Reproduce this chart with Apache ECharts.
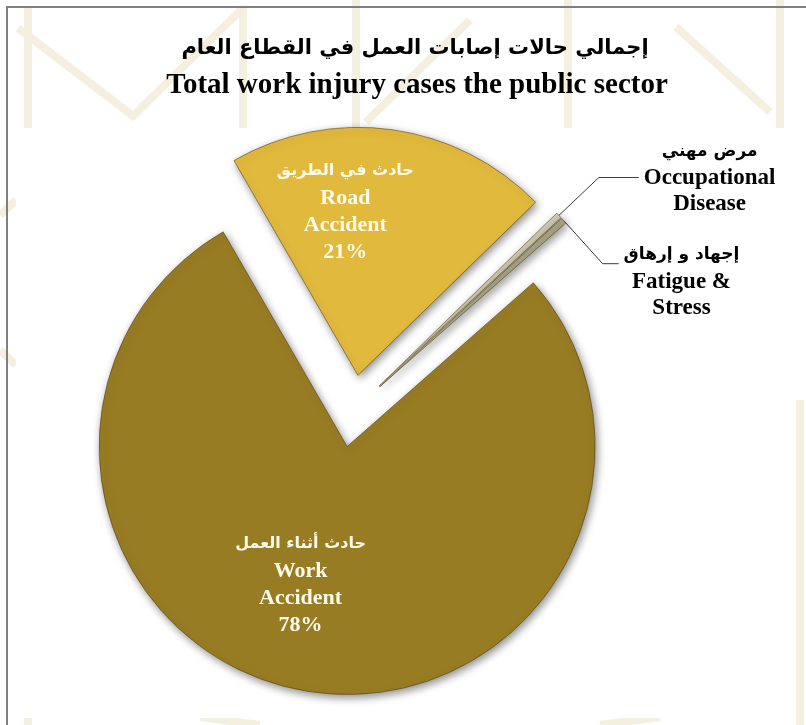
<!DOCTYPE html>
<html>
<head>
<meta charset="utf-8">
<script src="https://cdn.jsdelivr.net/npm/echarts@6/dist/echarts.min.js"></script>
<style>
html,body{margin:0;padding:0;background:#fff;}
#chart{width:806px;height:725px;}
</style>
</head>
<body>
<div id="chart"></div>
<script>
// ---- data ----
const titleAr = 'إجمالي حالات إصابات العمل في القطاع العام';
const titleEn = 'Total work injury cases the public sector';
const categoriesAr = ['حادث في الطريق', 'مرض مهني', 'إجهاد و إرهاق', 'حادث أثناء العمل'];
const categoriesEn = ['Road\nAccident', 'Occupational\nDisease', 'Fatigue &\nStress', 'Work\nAccident'];
const values = [21, 0.4, 0.4, 78];
const showPercent = [true, false, false, true];

// ---- styles ----
const sliceColors = ['#E1B93C', '#CFCAB2', '#A6A184', '#987C24'];
const insideNudge = [{dx: -30, dy: -38}, null, null, {dx: -26, dy: 12}];
const leaderLength = [null, 55, 20, null];
const leadingSpace = [false, false, true, false];

const chart = echarts.init(document.getElementById('chart'), null, {renderer: 'canvas'});

function enLines(s, tag) {
  return s.split('\n').map(l => '{' + tag + '|' + l + '}').join('\n');
}

const data = values.map((v, i) => {
  const inside = showPercent[i];
  const item = {
    name: categoriesAr[i],
    value: v,
    selected: true,
    itemStyle: {color: sliceColors[i]},
    select: {itemStyle: {color: sliceColors[i]}},
    label: {
      position: inside ? 'inside' : 'outside',
      formatter: function (p) {
        const tagA = inside ? 'arI' : 'arO';
        const tagE = inside ? 'enI' : 'enO';
        let s = '{' + tagA + '|' + categoriesAr[i] + '}\n' + enLines(categoriesEn[i], tagE);
        if (inside) s += '\n{' + tagE + '|' + Math.round(p.percent) + '%}';
        if (leadingSpace[i]) s = '{sp| }\n' + s;
        return s;
      }
    },
    labelLine: {show: !inside}
  };
  if (leaderLength[i] != null) item.labelLine.length = leaderLength[i];
  return item;
});

// decorative faint background pattern
const patColor = '#F5EFDF';
const patternLines = [
  [[18, 28], [133, 116], [243, 8]],
  [[243, 8], [243, 130]],
  [[356, 0], [356, 130]],
  [[366, 122], [470, 20]],
  [[568, 0], [568, 130]],
  [[676, 27], [770, 112]],
  [[780, 0], [780, 130]],
  [[28, 8], [28, 725]],
  [[0, 215], [16, 200]],
  [[0, 350], [16, 365]],
  [[800, 400], [800, 725]],
  [[200, 717], [260, 725]],
  [[600, 725], [660, 717]]
];
const graphics = patternLines.map(pts => ({
  type: 'polyline', silent: true, z: -20,
  shape: {points: pts},
  style: {stroke: patColor, lineWidth: 8, fill: null}
}));
graphics.push({
  type: 'rect', silent: true, z: -10,
  shape: {x: 16, y: 128, width: 780, height: 590},
  style: {fill: '#ffffff'}
});
graphics.push({
  type: 'polyline', silent: true, z: -5,
  shape: {points: [[7, 725], [7, 7], [806, 7]]},
  style: {stroke: '#7f7f7f', lineWidth: 2, fill: null}
});

chart.setOption({
  backgroundColor: '#ffffff',
  animation: false,
  graphic: graphics,
  title: [
    {text: titleAr, left: 410, top: 33, textAlign: 'center',
     textStyle: {fontFamily: 'DejaVu Sans', fontWeight: 'bold', fontSize: 21, color: '#000'}},
    {text: titleEn, left: 412, top: 66, textAlign: 'center',
     textStyle: {fontFamily: 'Liberation Serif', fontWeight: 'bold', fontSize: 29, color: '#000'}}
  ],
  series: [{
    type: 'pie',
    center: [353, 411],
    radius: [0, 248],
    startAngle: 120,
    clockwise: true,
    selectedMode: 'multiple',
    selectedOffset: 36,
    avoidLabelOverlap: true,
    percentPrecision: 0,
    emphasis: {disabled: true, scale: false},
    itemStyle: {
      borderColor: 'rgba(80,60,10,0.55)',
      borderWidth: 1,
      shadowBlur: 8,
      shadowColor: 'rgba(0,0,0,0.45)',
      shadowOffsetX: 2,
      shadowOffsetY: 3
    },
    label: {
      show: true,
      alignTo: 'labelLine',
      rich: {
        sp: {fontSize: 10, lineHeight: 34},
        arI: {fontFamily: 'DejaVu Sans', fontWeight: 'bold', fontSize: 16, color: '#FFFBEA', lineHeight: 28, align: 'center'},
        enI: {fontFamily: 'Liberation Serif', fontWeight: 'bold', fontSize: 22, color: '#FFFBEA', lineHeight: 27, align: 'center'},
        arO: {fontFamily: 'DejaVu Sans', fontWeight: 'bold', fontSize: 17, color: '#000', lineHeight: 28, align: 'center'},
        enO: {fontFamily: 'Liberation Serif', fontWeight: 'bold', fontSize: 23, color: '#000', lineHeight: 26, align: 'center'}
      }
    },
    labelLine: {
      length: 20,
      length2: 40,
      lineStyle: {color: '#3a3a3a', width: 1}
    },
    labelLayout: function (params) {
      const n = insideNudge[params.dataIndex];
      return n ? {dx: n.dx, dy: n.dy} : {};
    },
    data: data
  }]
});
</script>
</body>
</html>
